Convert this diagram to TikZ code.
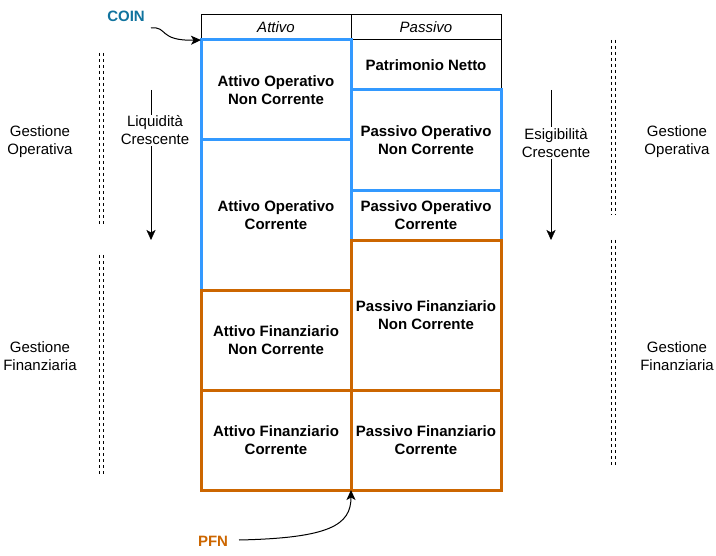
\documentclass[tikz,border=0pt]{standalone}
\usepackage{fontspec}
\setmainfont{Liberation Sans}
\usetikzlibrary{positioning,arrows.meta}
\definecolor{opblue}{HTML}{3399FF}
\definecolor{finorange}{HTML}{CC6600}
\definecolor{coinblue}{HTML}{10739E}
\newcommand\cellfont{\fontsize{15bp}{18bp}\selectfont}
\tikzset{
  cell/.style={draw, line width=1bp, minimum width=150bp, inner sep=0pt, outer sep=0pt, align=center, font=\cellfont\bfseries},
  headcell/.style={cell, minimum height=25bp, font=\cellfont\itshape},
  opcell/.style={cell, draw=opblue, line width=3bp},
  fincell/.style={cell, draw=finorange, line width=3bp},
  sidelabel/.style={align=center, font=\cellfont},
  gestline/.style={line width=1bp, dash pattern=on 3bp off 3bp},
  tip/.style={-{Stealth[length=10bp,width=9bp,inset=2.5bp]}}
}
\begin{document}
\begin{tikzpicture}[x=1bp, y=-1bp]
 \useasboundingbox (0,0) rectangle (716,556);

 % intestazione e patrimonio netto
 \node (att) [headcell] at (276,27.5) {Attivo};
 \node (pas) [headcell] at (426,27.5) {Passivo};
 \node (pn) [cell, minimum height=50bp, below=0pt of pas] {Patrimonio Netto};

 % gestione operativa
 \node (aonc) [opcell, minimum height=100bp, below=0pt of att] {Attivo Operativo\\Non Corrente};
 \node (aoc) [opcell, minimum height=150bp, below=0pt of aonc] {Attivo Operativo\\Corrente};
 \node (ponc) [opcell, minimum height=100bp, below=0pt of pn] {Passivo Operativo\\Non Corrente};
 \node (poc) [opcell, minimum height=50bp, below=0pt of ponc] {Passivo Operativo\\Corrente};

 % gestione finanziaria
 \node (afnc) [fincell, minimum height=100bp, below=0pt of aoc] {Attivo Finanziario\\Non Corrente};
 \node (afc) [fincell, minimum height=100bp, below=0pt of afnc] {Attivo Finanziario\\Corrente};
 \node (pfnc) [fincell, minimum height=150bp, below=0pt of poc] {Passivo Finanziario\\Non Corrente};
 \node (pfc) [fincell, minimum height=100bp, below=0pt of pfnc] {Passivo Finanziario\\Corrente};

 % frecce liquidita / esigibilita
 \coordinate (liqtop) at (151,90);
 \coordinate (liqbot) at (151,240);
 \coordinate (esitop) at (551,90);
 \coordinate (esibot) at (551,240);
 \draw [tip] (liqtop) -- (liqbot);
 \draw [tip] (esitop) -- (esibot);
 \node (liq) [sidelabel, fill=white, inner sep=1bp] at (155,130.5) {Liquidità\\Crescente};
 \node (esi) [sidelabel, fill=white, inner sep=1bp] at (556,143) {Esigibilità\\Crescente};

 % gestioni
 \node (gol) [sidelabel] at (40,142) {Gestione\\Operativa};
 \node (gfl) [sidelabel] at (40,356) {Gestione\\Finanziaria};
 \node (gor) [sidelabel] at (677,142) {Gestione\\Operativa};
 \node (gfr) [sidelabel] at (677,356) {Gestione\\Finanziaria};
 \draw [gestline] (99.5,53) -- (99.5,227) (103.5,53) -- (103.5,227);
 \draw [gestline] (99.5,255) -- (99.5,477) (103.5,255) -- (103.5,477);
 \draw [gestline] (611.5,40) -- (611.5,215) (615.5,40) -- (615.5,215);
 \draw [gestline] (611.5,240) -- (611.5,465) (615.5,240) -- (615.5,465);

 % COIN e PFN
 \node (coin) [font=\cellfont\bfseries, text=coinblue] at (126,16) {COIN};
 \node (pfn) [font=\cellfont\bfseries, text=finorange] at (213,541) {PFN};
 \draw [tip, line width=1bp] (151,28) .. controls (168,26) and (158,41) .. (aonc.north west);
 \draw [tip, line width=1bp] (239,540) .. controls (330,538) and (351,525) .. (afc.south east);
\end{tikzpicture}
\end{document}
